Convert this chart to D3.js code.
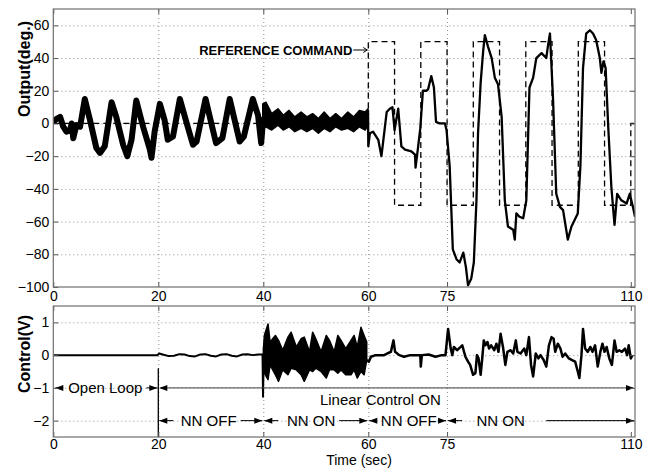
<!DOCTYPE html>
<html>
<head>
<meta charset="utf-8">
<script src="https://cdn.jsdelivr.net/npm/d3@7"></script>
<style>
  body { margin: 0; background: #fff; }
  svg { display: block; font-family: "Liberation Sans", Arial, Helvetica, sans-serif; }
</style>
</head>
<body>
<svg id="chart" width="656" height="468"></svg>
<script>
// ---- data ----
const xTicks = [0, 20, 40, 60, 75, 110]
const outTicks = [60, 40, 20, 0, -20, -40, -60, -80, -100]
const ctrlTicks = [1, 0, -1, -2]

// reference command (square wave)
const refTime = [0, 60, 60, 65, 65, 70, 70, 75, 75, 80, 80, 85, 85, 90, 90, 95, 95, 100, 100, 105, 105, 110, 110, 111]
const refValue = [0, 0, 50, 50, -50, -50, 50, 50, -50, -50, 50, 50, -50, -50, 50, 50, -50, -50, 50, 50, -50, -50, 0, 0]

// output, open loop + NN off (0-40)
const outTime1 = [0, 0.7, 1.3, 1.9, 2.5, 3.2, 3.5, 3.8, 4.4, 5.1, 6.0, 7.0, 8.2, 8.9, 9.8, 11.1, 12.0, 13.3, 14.1, 14.9, 15.8, 17.1, 18.4, 18.7, 19.3, 20.3, 21.2, 21.8, 22.8, 24.1, 25.6, 26.6, 27.3, 29.0, 31.0, 32.2, 33.6, 35.5, 36.3, 38.0, 39.0, 39.6, 40.0]
const outVal1 = [1, 3, 4, -2, -5, -4, 0, -9, -1, -2, 15, 2, -15, -18, -14, 13, 4, -13, -20, -10, 14, -2, -16, -21, -5, 12, 2, -10, -8, 15, -2, -13, -11, 15, -12, -9, 15, -11, -8, 15, 5, -12, 4]

// output, NN on (40-60): noisy band envelope
const outBandTime = [39.9, 40.5, 41.6, 42.8, 43.8, 44.9, 46.0, 47.2, 48.3, 49.4, 50.5, 51.6, 52.7, 53.8, 54.9, 56.1, 57.2, 58.3, 59.4, 59.95]
const outBandHi = [12, 13, 6, 9, 5, 8, 4, 7, 4, 6, 3, 7, 3, 6, 3, 7, 4, 8, 7, 9]
const outBandLo = [-3, -2, -4, -1, -4, -2, -5, -3, -5, -3, -6, -3, -5, -2, -4, -3, -5, -2, -4, -1]

// output, tracking the square wave (60-110)
const outTime2 = [59.95, 60.0, 60.3, 60.9, 61.9, 62.5, 62.8, 63.5, 64.1, 64.6, 65.0, 65.7, 66.3, 67.0, 68.2, 68.9, 69.0, 69.5, 69.9, 70.4, 71.1, 71.4, 72.0, 72.5, 72.9, 73.6, 74.6, 74.9, 75.5, 76.1, 76.8, 77.4, 78.1, 78.6, 79.0, 79.6, 80.1, 80.6, 80.9, 81.4, 81.9, 82.2, 82.8, 83.5, 84.1, 84.7, 85.4, 86.0, 86.6, 87.6, 87.9, 88.2, 88.8, 89.5, 90.1, 90.7, 91.4, 92.0, 93.0, 93.9, 94.2, 94.6, 95.2, 95.8, 96.5, 97.1, 97.4, 98.0, 98.7, 99.3, 99.9, 100.4, 100.9, 101.5, 102.2, 102.8, 103.4, 104.1, 104.4, 104.8, 105.2, 105.7, 106.3, 106.9, 107.4, 108.2, 109.2, 109.8, 110.4, 110.8]
const outVal2 = [8, -14, -6, -5, -10, -20, -12, 7, 9, 10, -4, 9, -14, -16, -17, -19, -27, -14, -3, 20, 20, 21, 29, 22, 1, 0, 0, -4, -26, -77, -83, -85, -79, -88, -99, -95, -85, -47, -6, 25, 45, 54, 47, 40, 28, 24, 4, -47, -63, -65, -71, -55, -57, -58, -47, 22, 28, 40, 43, 40, 47, 55, 14, -43, -51, -53, -59, -71, -63, -59, -55, -26, 34, 55, 57, 55, 51, 40, 31, 38, 34, -2, -39, -62, -43, -47, -49, -43, -51, -57]

// control voltage
const ctrlTime1 = [0, 19.8, 20.2, 21, 22, 23, 24, 25, 26, 27, 28, 29, 30, 31, 32, 33, 34, 35, 36, 37, 38, 39, 39.85, 39.95, 40.1]
const ctrlVal1 = [0, 0, 0.05, 0.01, -0.03, -0.02, 0.03, 0.02, -0.03, -0.04, 0.02, 0.03, -0.02, -0.04, 0.02, 0.03, -0.02, -0.04, 0.02, 0.03, 0, 0.02, 0.02, -1.27, 0.25]

const ctrlBandTime = [40.05, 40.2, 40.9, 41.3, 42.3, 42.9, 43.7, 44.7, 45.3, 46.3, 47.2, 47.8, 48.8, 49.4, 50.0, 51.0, 52.0, 52.6, 53.5, 54.2, 54.8, 55.7, 56.7, 57.3, 57.9, 58.6, 59.2, 59.7]
const ctrlBandHi = [0.25, 0.6, 0.95, 0.4, 0.6, 0.45, 0.15, 0.55, 0.7, 0.25, 0.5, 0.55, 0.1, 0.7, 0.5, 0.1, 0.6, 0.45, 0.1, 0.6, 0.45, 0.2, 0.45, 0.6, 0.25, 0.85, 0.6, 0.4]
const ctrlBandLo = [-0.2, -0.55, -0.75, -0.3, -0.6, -0.8, -0.45, -0.6, -0.4, -0.45, -0.6, -0.8, -0.45, -0.5, -0.4, -0.5, -0.7, -0.45, -0.45, -0.55, -0.45, -0.6, -0.6, -0.45, -0.7, -0.5, -0.6, -0.15]

const ctrlTime2 = [59.7, 60.1, 60.5, 61.4, 63.0, 63.6, 64.3, 64.8, 65.1, 65.9, 66.8, 68.0, 69.9, 70.0, 70.2, 71.5, 72.8, 74.0, 74.7,
  75.2, 75.7, 76.0, 76.3, 76.9, 77.6, 77.9, 78.5, 79.0, 79.4, 79.96, 80.4, 80.7, 81.0, 81.4, 81.7, 82.0, 82.3, 82.7, 83.0, 83.4, 84.0, 84.4, 84.8, 85.2, 85.7, 86.1, 86.5, 87.1, 87.6, 88.1, 88.4, 89.0, 89.7, 90.1, 90.6, 91.0, 91.4, 91.9, 92.4, 92.8, 93.4, 93.9, 94.4, 94.9, 95.3, 95.6, 96.1, 96.6, 97.0, 97.5, 98.2, 98.8, 99.4, 99.9, 100.2, 100.6, 100.9, 101.3, 101.8, 102.3, 102.7, 103.2, 103.7, 104.2, 104.6, 105.0, 105.4, 105.9, 106.4, 106.9, 107.3, 107.8, 108.3, 108.9, 109.3, 109.6, 110.0, 110.3]
const ctrlVal2 = [-0.15, -0.2, -0.05, 0, 0, 0.05, 0.1, 0.45, 0.1, 0, -0.05, 0, 0, -0.35, 0, 0.02, -0.05, 0, 0,
  0.8, 0.2, 0, 0.25, 0.15, 0.25, 0.3, -0.05, -0.2, -0.3, -0.6, -0.55, 0, -0.1, -0.6, -0.1, 0.45, 0.3, 0.4, 0.2, 0.3, 0.15, 0.35, 0.1, 0.65, 0.2, -0.3, 0.1, 0.15, 0.05, 0.45, 0.1, 0.05, 0.2, 0, 0.55, -0.3, -0.65, 0.05, -0.1, 0, -0.15, -0.35, 0.3, 0.55, 0.5, 0.1, 0.35, 0.2, -0.05, 0.05, -0.1, -0.15, -0.2, -0.5, -0.7, 0, 0.8, 0.2, 0.1, 0.25, 0.1, 0.3, -0.35, 0.1, 0.35, 0.1, 0.25, -0.1, -0.3, 0.45, 0.1, 0.15, 0.1, 0.2, 0, 0.3, -0.1, 0]

// phase annotations
const phaseLabels = ["Open Loop", "NN OFF", "NN ON", "NN OFF", "NN ON"]
const phaseStart = [0, 20, 40, 60, 75]
const phaseEnd = [20, 40, 60, 75, 110]
const phaseLevel = [-1, -2, -2, -2, -2]
const phaseLabelAt = [9.9, 29.6, 49.1, 67.7, 85.2]

// ---- scales ----
const svg = d3.select("#chart")
const left = 53.3, right = 635
const x = d3.scaleLinear().domain([0, 110.8]).range([left, right])
const yOut = d3.scaleLinear().domain([-100, 70]).range([287, 9])
const yCtl = d3.scaleLinear().domain([-2.5, 1.5]).range([437, 306])

const zip = (t, v) => t.map((d, i) => [d, v[i]])

function panel(y, yTicks, id) {
  const [b, t] = y.range()
  svg.append("clipPath").attr("id", id)
    .append("rect").attr("x", left).attr("y", t).attr("width", right - left).attr("height", b - t)

  // grid
  const grid = svg.append("g").attr("class", "grid")
  grid.append("g").attr("transform", `translate(0,${b})`)
    .call(d3.axisBottom(x).tickValues(xTicks.filter((d) => d > 0 && d < 110)).tickSize(-(b - t)).tickFormat(""))
  grid.append("g").attr("transform", `translate(${left},0)`)
    .call(d3.axisLeft(y).tickValues(yTicks.filter((d) => y(d) < b - 1 && y(d) > t + 1)).tickSize(-(right - left)).tickFormat(""))
  grid.selectAll(".domain").remove()
  grid.selectAll("line").attr("stroke", "#8c8c8c").attr("stroke-width", 1).attr("stroke-dasharray", "1,3")

  return svg.append("g").attr("clip-path", `url(#${id})`)
}

function frame(y, yTicks, pad) {
  const [b, t] = y.range()
  const g = svg.append("g")
  const fmt = (d) => d3.format("d")(d)
  g.append("g").attr("transform", `translate(0,${b})`)
    .call(d3.axisBottom(x).tickValues(xTicks).tickSizeInner(-5).tickSizeOuter(0).tickPadding(pad).tickFormat(fmt))
  g.append("g").attr("transform", `translate(0,${t})`)
    .call(d3.axisTop(x).tickValues(xTicks).tickSizeInner(-5).tickSizeOuter(0).tickFormat(""))
  g.append("g").attr("transform", `translate(${left},0)`)
    .call(d3.axisLeft(y).tickValues(yTicks).tickSizeInner(-5).tickSizeOuter(0).tickPadding(4).tickFormat(fmt))
  g.append("g").attr("transform", `translate(${right},0)`)
    .call(d3.axisRight(y).tickValues(yTicks).tickSizeInner(-5).tickSizeOuter(0).tickFormat(""))
  g.selectAll(".domain").remove()
  g.selectAll(".tick line").attr("stroke", "#555")
  g.selectAll("text").attr("font-size", 14).attr("fill", "#000")
    .attr("font-family", '"Liberation Sans", Arial, sans-serif')
  g.append("rect").attr("x", left).attr("y", t).attr("width", right - left).attr("height", b - t)
    .attr("fill", "none").attr("stroke", "#6e6e6e").attr("stroke-width", 1.2)
}

// ---- top panel: output ----
const topG = panel(yOut, outTicks, "clipTop")
const lineOut = d3.line().x((d) => x(d[0])).y((d) => yOut(d[1]))
const areaOut = d3.area().x((d) => x(d[0])).y0((d) => yOut(d[2])).y1((d) => yOut(d[1]))

topG.append("path").attr("d", lineOut(zip(refTime, refValue)))
  .attr("fill", "none").attr("stroke", "#000").attr("stroke-width", 1.3).attr("stroke-dasharray", "6,4")

topG.append("path").attr("d", lineOut(zip(outTime1, outVal1)))
  .attr("fill", "none").attr("stroke", "#000").attr("stroke-width", 6).attr("stroke-linejoin", "round")

topG.append("path").attr("d", areaOut(outBandTime.map((d, i) => [d, outBandHi[i], outBandLo[i]])))
  .attr("fill", "#000").attr("stroke", "#000").attr("stroke-width", 1.5).attr("stroke-linejoin", "round")

topG.append("path").attr("d", lineOut(zip(outTime2, outVal2)))
  .attr("fill", "none").attr("stroke", "#000").attr("stroke-width", 2.3).attr("stroke-linejoin", "round")

frame(yOut, outTicks, 4)

// reference command label
const refX = x(60)
svg.append("text").attr("x", refX - 16).attr("y", 54.5).attr("text-anchor", "end")
  .attr("font-size", 13).attr("font-weight", "bold").text("REFERENCE COMMAND")
svg.append("path").attr("d", `M${refX - 15},50 L${refX - 1},50 M${refX - 5},47.5 L${refX - 1},50 L${refX - 5},52.5`)
  .attr("fill", "none").attr("stroke", "#000").attr("stroke-width", 1)

// ---- bottom panel: control ----
const botG = panel(yCtl, ctrlTicks, "clipBot")
const lineCtl = d3.line().x((d) => x(d[0])).y((d) => yCtl(d[1]))
const areaCtl = d3.area().x((d) => x(d[0])).y0((d) => yCtl(d[2])).y1((d) => yCtl(d[1]))

botG.append("path").attr("d", lineCtl(zip(ctrlTime1, ctrlVal1)))
  .attr("fill", "none").attr("stroke", "#000").attr("stroke-width", 2).attr("stroke-linejoin", "round")
botG.append("path").attr("d", areaCtl(ctrlBandTime.map((d, i) => [d, ctrlBandHi[i], ctrlBandLo[i]])))
  .attr("fill", "#000").attr("stroke", "#000").attr("stroke-width", 1.5).attr("stroke-linejoin", "round")
botG.append("path").attr("d", lineCtl(zip(ctrlTime2, ctrlVal2)))
  .attr("fill", "none").attr("stroke", "#000").attr("stroke-width", 2.5).attr("stroke-linejoin", "round")

// annotations
const ann = svg.append("g")
function arrowHead(px, py, dir) {
  ann.append("path").attr("d", `M${px},${py} L${px - dir * 8},${py - 3} L${px - dir * 8},${py + 3} Z`).attr("fill", "#000")
}
function hLine(x1, x2, py, color) {
  if (x2 <= x1) return
  ann.append("line").attr("x1", x1).attr("x2", x2).attr("y1", py).attr("y2", py)
    .attr("stroke", color || "#000").attr("stroke-width", 1)
}

// solid mark at t = 20
ann.append("line").attr("x1", x(20)).attr("x2", x(20)).attr("y1", yCtl(-0.4)).attr("y2", yCtl(-2.5))
  .attr("stroke", "#000").attr("stroke-width", 1.3)

// Linear Control ON arrow (20 -> 110)
const lcY = yCtl(-1)
hLine(x(20) + 2, right - 2, lcY, "#444")
arrowHead(x(20) + 1, lcY, -1)
arrowHead(right - 1, lcY, 1)
ann.append("text").attr("x", x(62.3)).attr("y", lcY + 17.5).attr("text-anchor", "middle")
  .attr("font-size", 15).text("Linear Control ON")

phaseLabels.forEach((lab, i) => {
  const py = yCtl(phaseLevel[i])
  const x0 = i === 0 ? left + 2 : x(phaseStart[i]) + 1
  const x1 = i === phaseLabels.length - 1 ? right - 1 : x(phaseEnd[i]) - 1
  const txt = ann.append("text").attr("x", x(phaseLabelAt[i])).attr("y", py).attr("dy", "0.36em")
    .attr("text-anchor", "middle").attr("font-size", 15).text(lab)
  const w = txt.node().getComputedTextLength()
  const tl = x(phaseLabelAt[i]) - w / 2, tr = x(phaseLabelAt[i]) + w / 2
  hLine(x0, Math.min(x0 + 14, tl - 5), py)
  hLine(i === phaseLabels.length - 1 ? x(93.9) : tr + 4, x1, py)
  arrowHead(x0, py, -1)
  arrowHead(x1, py, 1)
})

frame(yCtl, ctrlTicks, 2)

// axis titles
svg.append("text").attr("transform", "translate(30,69) rotate(-90)").attr("text-anchor", "middle")
  .attr("font-size", 16).attr("font-weight", "bold").text("Output(deg.)")
svg.append("text").attr("transform", "translate(30,354) rotate(-90)").attr("text-anchor", "middle")
  .attr("font-size", 16).attr("font-weight", "bold").text("Control(V)")
svg.append("text").attr("x", 359).attr("y", 465).attr("text-anchor", "middle")
  .attr("font-size", 14).text("Time (sec)")
</script>
</body>
</html>
